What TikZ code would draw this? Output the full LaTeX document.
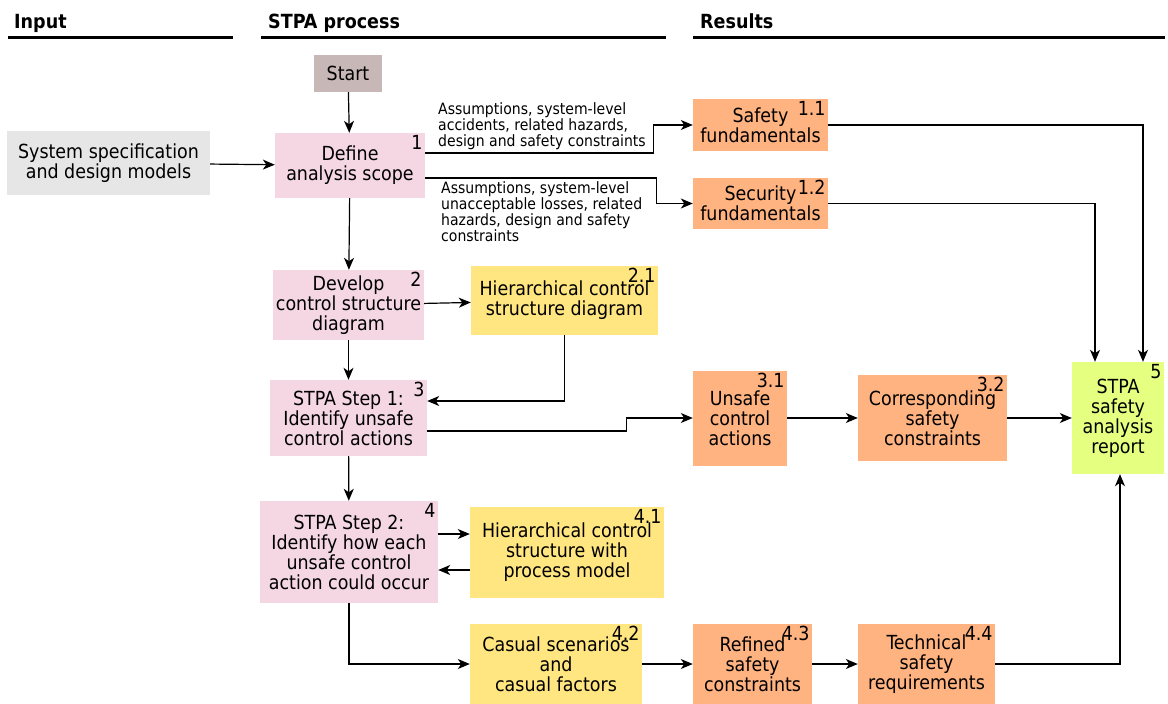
\documentclass[tikz,border=0pt]{standalone}
\usepackage{fontspec}
\setmainfont{DejaVu Sans Condensed}
\usetikzlibrary{arrows.meta}

\definecolor{startgray}{HTML}{C8B7B7}
\definecolor{inputgray}{HTML}{E6E6E6}
\definecolor{steppink}{HTML}{F4D7E3}
\definecolor{resorange}{HTML}{FFB380}
\definecolor{resyellow}{HTML}{FFE680}
\definecolor{resgreen}{HTML}{E5FF80}

\begin{document}
\begin{tikzpicture}[x=1pt, y=-1pt,
    box/.style={inner sep=0pt, align=center, font=\fontsize{19.4}{20}\selectfont},
    num/.style={anchor=north east, inner sep=2.5pt, font=\fontsize{19.4}{20}\selectfont},
    note/.style={anchor=north west, inner sep=0pt, align=left, font=\fontsize{15.6}{16}\selectfont},
    head/.style={anchor=base west, inner sep=0pt, font=\bfseries\fontsize{19.5}{20}\selectfont},
    flow/.style={-{Stealth[length=12pt, width=10pt, inset=3.5pt]}, line width=1.2pt}]
    \useasboundingbox (0,0) rectangle (1168,704);

    % Column headers
    \node[head] (hinput) at (14,28) {Input};
    \node[head] (hproc) at (268,28) {STPA process};
    \node[head] (hres) at (700,28) {Results};
    \draw[line width=3pt] (8,37) -- (233,37);
    \draw[line width=3pt] (261,37) -- (666,37);
    \draw[line width=3pt] (693,37) -- (1165,37);

    % Process steps
    \node[box, fill=startgray, minimum width=68, minimum height=37] (start) at (348,73.5) {Start};
    \node[box, fill=inputgray, minimum width=203, minimum height=64] (sysspec) at (108.5,163) {System specification\\and design models};
    \node[box, fill=steppink, minimum width=150, minimum height=65] (scope) at (350,165.5) {Define\\analysis scope};
    \node[box, fill=steppink, minimum width=151, minimum height=70] (develop) at (348.5,305) {Develop\\control structure\\diagram};
    \node[box, fill=steppink, minimum width=157, minimum height=76] (step1) at (348.5,418) {STPA Step 1:\\Identify unsafe\\control actions};
    \node[box, fill=steppink, minimum width=178, minimum height=102] (step2) at (349,552) {STPA Step 2:\\Identify how each\\unsafe control\\action could occur};

    % Results
    \node[box, fill=resorange, minimum width=135, minimum height=52] (safefund) at (760.5,125) {Safety\\fundamentals};
    \node[box, fill=resorange, minimum width=135, minimum height=51] (secfund) at (760.5,203.5) {Security\\fundamentals};
    \node[box, fill=resyellow, minimum width=187, minimum height=69] (hcsd) at (564.5,300.5) {Hierarchical control\\structure diagram};
    \node[box, fill=resorange, minimum width=94, minimum height=95] (uca) at (740,418) {Unsafe\\control\\actions};
    \node[box, fill=resorange, minimum width=149, minimum height=86] (csc) at (932.5,418) {Corresponding\\safety\\constraints};
    \node[box, fill=resgreen, minimum width=92, minimum height=112] (report) at (1118,418) {STPA\\safety\\analysis\\report};
    \node[box, fill=resyellow, minimum width=194, minimum height=91] (hcpm) at (567,552) {Hierarchical control\\structure with\\process model};
    \node[box, fill=resyellow, minimum width=172, minimum height=80] (scen) at (556,664) {Casual scenarios\\and\\casual factors};
    \node[box, fill=resorange, minimum width=119, minimum height=80] (refined) at (752.5,664) {Refined\\safety\\constraints};
    \node[box, fill=resorange, minimum width=137, minimum height=80] (techreq) at (926.5,664) {Technical\\safety\\requirements};

    % Step numbers
    \node[num] (n1) at (scope.north east) {1};
    \node[num] (n2) at (develop.north east) {2};
    \node[num] (n3) at (step1.north east) {3};
    \node[num] (n4) at (step2.north east) {4};
    \node[num] (n5) at (report.north east) {5};
    \node[num] (n11) at (safefund.north east) {1.1};
    \node[num] (n12) at (secfund.north east) {1.2};
    \node[num] (n21) at (hcsd.north east) {2.1};
    \node[num] (n31) at (uca.north east) {3.1};
    \node[num] (n32) at (csc.north east) {3.2};
    \node[num] (n41) at (hcpm.north east) {4.1};
    \node[num] (n42) at (scen.north east) {4.2};
    \node[num] (n43) at (refined.north east) {4.3};
    \node[num] (n44) at (techreq.north east) {4.4};

    % Connector notes
    \node[note] (note1) at (438,102) {Assumptions, system-level\\accidents, related hazards,\\design and safety constraints};
    \node[note] (note2) at (441,181) {Assumptions, system-level\\unacceptable losses, related\\hazards, design and safety\\constraints};

    % Process flow
    \draw[flow] (start) -- (scope);
    \draw[flow] (sysspec) -- (scope);
    \draw[flow] (scope) -- (develop);
    \draw[flow] (develop) -- (step1);
    \draw[flow] (step1) -- (step2);
    \draw[flow] ([yshift=12.5pt]scope.east) -| ([xshift=-39pt]safefund.west) -- (safefund.west);
    \draw[flow] ([yshift=-12.5pt]scope.east) -| ([xshift=-36pt]secfund.west) -- (secfund.west);
    \draw[flow] (develop) -- (hcsd);
    \draw[flow] (hcsd.south) |- ([yshift=17pt]step1.east);
    \draw[flow] ([yshift=-13pt]step1.east) -| ([xshift=-66pt]uca.west) -- (uca.west);
    \draw[flow] (uca) -- (csc);
    \draw[flow] (csc) -- (report);
    \draw[flow] (safefund.east) -| ([xshift=25pt]report.north);
    \draw[flow] (secfund.east) -| ([xshift=-23pt]report.north);
    \draw[flow] ([yshift=18pt]step2.east) -- ([yshift=18pt]hcpm.west);
    \draw[flow] ([yshift=-18pt]hcpm.west) -- ([yshift=-18pt]step2.east);
    \draw[flow] (step2.south) |- (scen.west);
    \draw[flow] (scen) -- (refined);
    \draw[flow] (refined) -- (techreq);
    \draw[flow] (techreq.east) -| ([xshift=2pt]report.south);
\end{tikzpicture}
\end{document}
